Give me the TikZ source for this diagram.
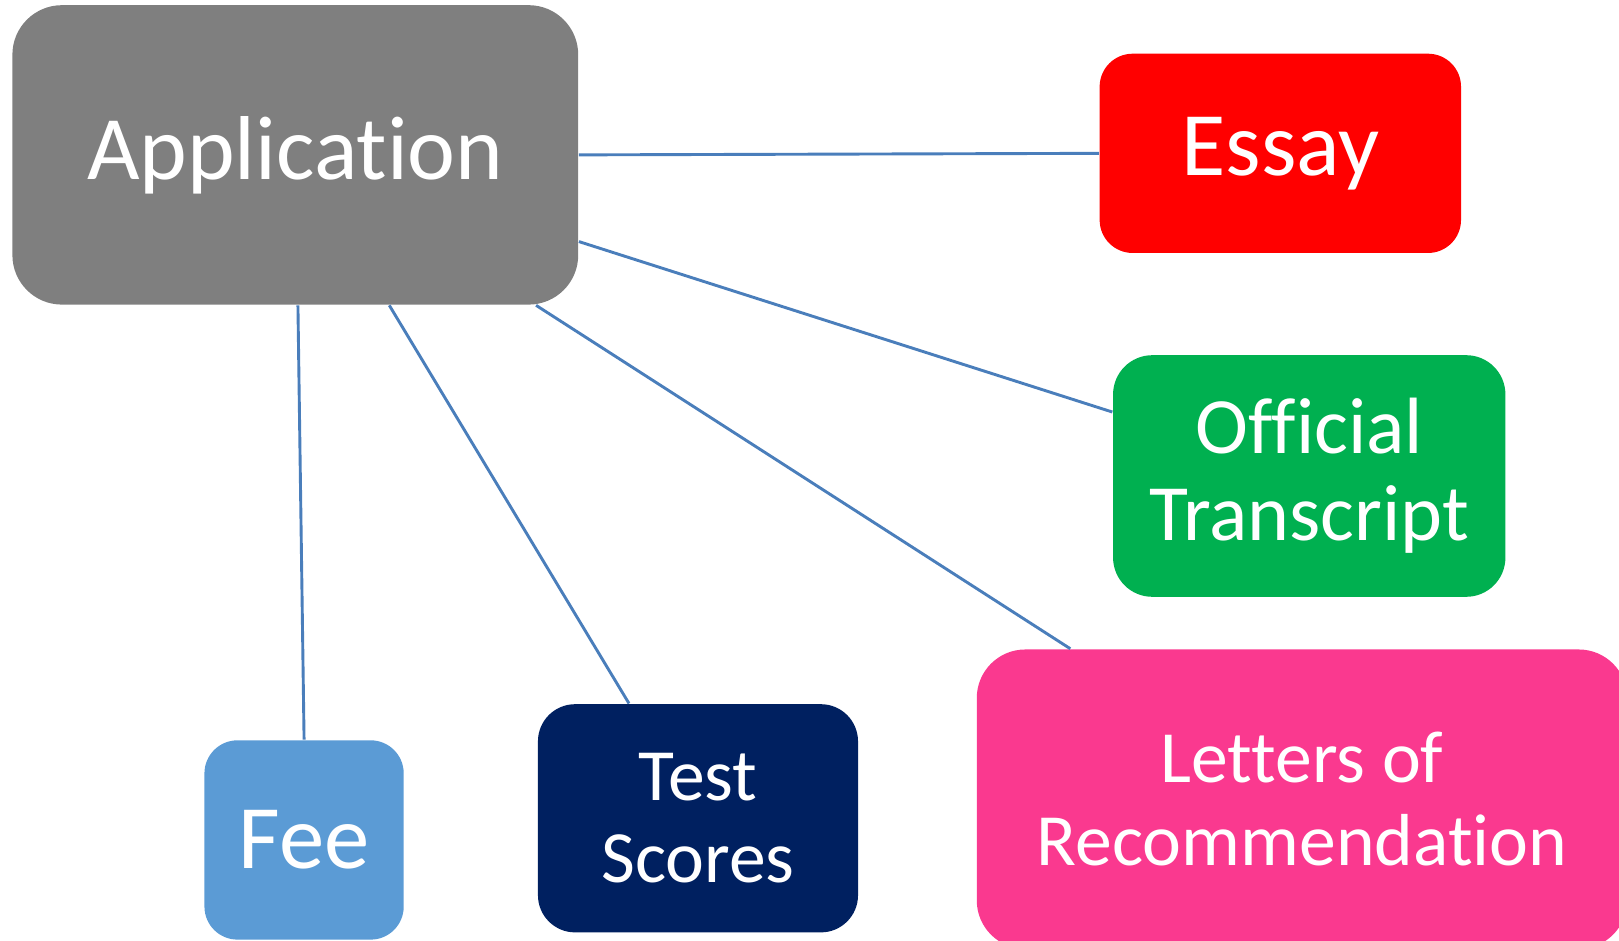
\documentclass[tikz,border=0pt]{standalone}
\usepackage{fontspec}
\setmainfont{Carlito}[Ligatures={NoCommon,NoRare}]
\usepackage{tikz}
\usetikzlibrary{positioning}
\definecolor{appgray}{RGB}{127,127,127}
\definecolor{essayred}{RGB}{255,0,0}
\definecolor{transgreen}{RGB}{0,176,80}
\definecolor{feeblue}{RGB}{91,155,213}
\definecolor{testnavy}{RGB}{0,32,96}
\definecolor{letterpink}{RGB}{250,57,143}
\definecolor{linkblue}{RGB}{74,126,187}

\begin{document}
\begin{tikzpicture}[
    x=0.1mm, y=-0.1mm,
    box/.style={rectangle, text=white, align=center, inner sep=0pt, font=\fontsize{25}{25}\selectfont},
    midbox/.style={box, font=\fontsize{22}{23.9}\selectfont},
    smallbox/.style={box, font=\fontsize{20.3}{22.7}\selectfont},
    link/.style={draw=linkblue, line width=0.8pt}
]
\useasboundingbox (0,0) rectangle (1568,911);
\clip (0,0) rectangle (1568,911);

\node[box, fill=appgray, minimum width=5.48cm, minimum height=2.9cm, rounded corners=0.48cm] (app) at (286,150) {Application};
\node[box, fill=essayred, minimum width=3.5cm, minimum height=1.93cm, rounded corners=0.32cm] (essay) at (1240,148.5) {Essay};
\node[midbox, fill=transgreen, minimum width=3.8cm, minimum height=2.34cm, rounded corners=0.38cm] (trans) at (1268,461) {Official\\Transcript};
\node[smallbox, fill=letterpink, minimum width=6.3cm, minimum height=2.9cm, rounded corners=0.47cm] (letters) at (1261,774) {Letters of\\Recommendation};
\node[smallbox, fill=testnavy, minimum width=3.1cm, minimum height=2.21cm, rounded corners=0.36cm] (test) at (676,792.5) {Test\\Scores};
\node[box, fill=feeblue, minimum width=1.93cm, minimum height=1.93cm, rounded corners=0.32cm] (fee) at (294.5,813.5) {Fee};

\draw[link] (app.east) -- (essay.west);
\draw[link] (app.-17.5) -- (trans.162.5);
\draw[link] (app.-32.5) -- (letters.147.5);
\draw[link] (app.-58.6) -- (test.121.3);
\draw[link] (app.-89.2) -- (fee.north);

\end{tikzpicture}
\end{document}
